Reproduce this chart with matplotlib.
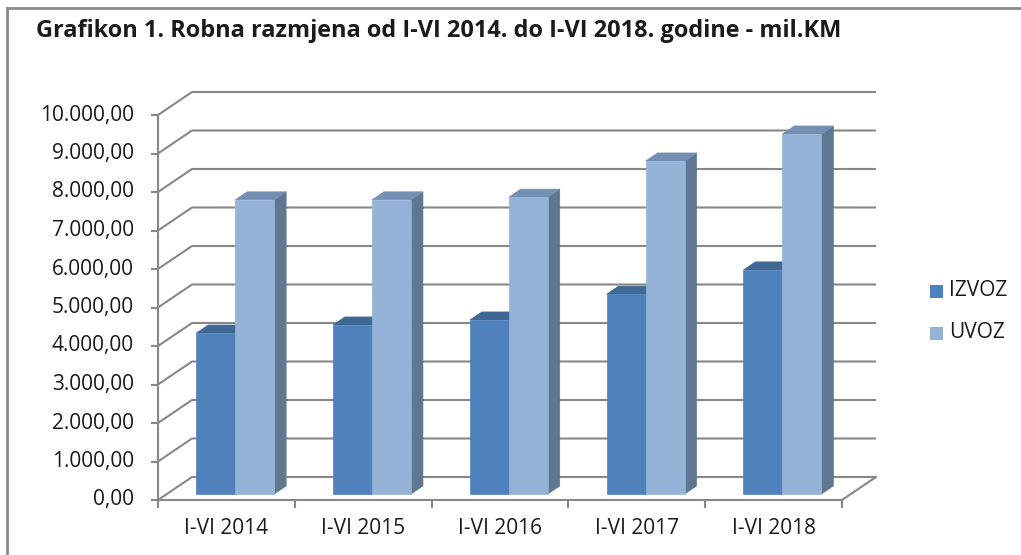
import matplotlib
matplotlib.use("Agg")
import matplotlib.pyplot as plt
from matplotlib.patches import Polygon

plt.rcParams['font.family'] = ['Open Sans', 'DejaVu Sans']

# data (mil. KM)
categories = ['I-VI 2014', 'I-VI 2015', 'I-VI 2016', 'I-VI 2017', 'I-VI 2018']
izvoz = [4180, 4390, 4520, 5190, 5820]
uvoz = [7640, 7640, 7710, 8650, 9350]
series_names = ['IZVOZ', 'UVOZ']
y_ticks = list(range(0, 10001, 1000))

# colours: front, top, side
c_izvoz = ('#4F81BD', '#3F6894', '#3B5F88')
c_uvoz = ('#95B3D7', '#7390B3', '#5F7791')
grid_col = '#888888'

# pseudo-3d geometry (pixel scale of the original)
W, H = 1021, 555
X0_PX, Y0_PX = 158, 500        # front origin in pixels
CAT_PX = 136.8                 # pixels per category
VAL_PX = 0.0385                # pixels per value unit
DX = 34 / CAT_PX               # depth offset in category units
DY = 23 / VAL_PX               # depth offset in value units
F0, F1 = 0.26, 0.61            # bar depth range
BW = 0.285                     # bar width (category units)


def proj(x, v, f):
    return (x + f * DX, v + f * DY)


def fmt(v):
    s = f"{v:,.2f}"
    return s.replace(",", "X").replace(".", ",").replace("X", ".")


fig = plt.figure(figsize=(W / 100, H / 100), dpi=100)
ax = fig.add_axes([0, 0, 1, 1])
ax.set_xlim(-X0_PX / CAT_PX, (W - X0_PX) / CAT_PX)
ax.set_ylim((Y0_PX - H) / VAL_PX, Y0_PX / VAL_PX)
ax.axis('off')

n = len(categories)

# back wall gridlines
for v in y_ticks:
    pts = [proj(0, v, 0), proj(0, v, 1), proj(n, v, 1)]
    ax.plot([p[0] for p in pts], [p[1] for p in pts], color=grid_col, lw=1.5,
            solid_capstyle='butt', zorder=1)

# floor front edge + right edge
pts = [proj(0, 0, 0), proj(n, 0, 0), proj(n, 0, 1)]
ax.plot([p[0] for p in pts], [p[1] for p in pts], color=grid_col, lw=1.5, zorder=1)

# value axis
ax.plot([0, 0], [0, y_ticks[-1]], color=grid_col, lw=1.5, zorder=1)
for v in y_ticks:
    ax.plot([-6 / CAT_PX, 0], [v, v], color=grid_col, lw=1.5, zorder=1)
    ax.text(-24 / CAT_PX, v, fmt(v), ha='right', va='center', fontsize=15,
            color='#1a1a1a')

# category ticks and labels
for k in range(n + 1):
    ax.plot([k, k], [0, -7 / VAL_PX], color=grid_col, lw=1.5, zorder=1)
for i, c in enumerate(categories):
    ax.text(i + 0.5, -28 / VAL_PX, c, ha='center', va='center', fontsize=15,
            color='#1a1a1a')


def bar3d(x0, x1, h, cols, z):
    front = [proj(x0, 0, F0), proj(x1, 0, F0), proj(x1, h, F0), proj(x0, h, F0)]
    top = [proj(x0, h, F0), proj(x1, h, F0), proj(x1, h, F1), proj(x0, h, F1)]
    side = [proj(x1, 0, F0), proj(x1, 0, F1), proj(x1, h, F1), proj(x1, h, F0)]
    for poly, col in ((side, cols[2]), (top, cols[1]), (front, cols[0])):
        ax.add_patch(Polygon(poly, closed=True, facecolor=col, edgecolor=col,
                             lw=0.5, zorder=z))


for i in range(n):
    c = i + 0.5
    bar3d(c - BW, c, izvoz[i], c_izvoz, 3 + 2 * i)
    bar3d(c, c + BW, uvoz[i], c_uvoz, 4 + 2 * i)

# title
fig.text(36 / W, 1 - 31 / H,
         'Grafikon 1. Robna razmjena od I-VI 2014. do I-VI 2018. godine - mil.KM',
         ha='left', va='center', fontsize=16.9, fontweight='bold', color='#1a1a1a')

# legend
for name, col, yp in ((series_names[0], c_izvoz[0], 291), (series_names[1], c_uvoz[0], 333)):
    fig.patches.append(plt.Rectangle((930 / W, 1 - (yp + 6.5) / H), 13 / W, 13 / H,
                                     facecolor=col, transform=fig.transFigure))
    fig.text(949 / W, 1 - yp / H, name, ha='left', va='center', fontsize=15,
             color='#1a1a1a')

# chart frame (top and left edges visible)
fig.add_artist(plt.Line2D([7 / W, 1], [1 - 8 / H, 1 - 8 / H], color='#8a8a8a', lw=2,
                          transform=fig.transFigure))
fig.add_artist(plt.Line2D([7 / W, 7 / W], [0, 1 - 8 / H], color='#8a8a8a', lw=2,
                          transform=fig.transFigure))

fig.savefig('out.png', dpi=100)
